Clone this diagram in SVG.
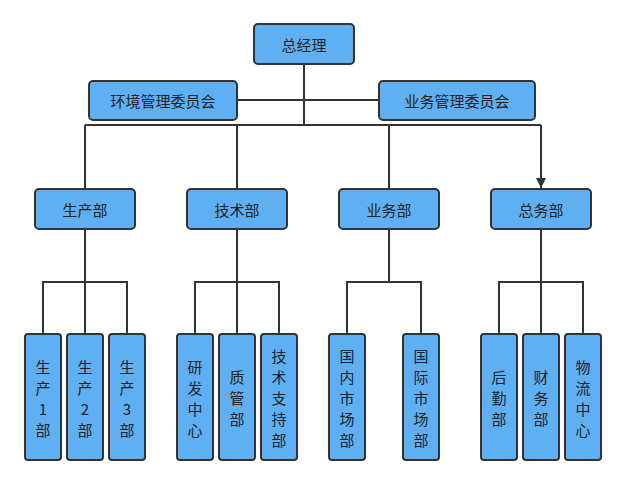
<svg xmlns="http://www.w3.org/2000/svg" width="626" height="485" viewBox="0 0 626 485">
<style>
.b{fill:#5fb0f2;stroke:#333;stroke-width:2}
.l{fill:none;stroke:#333;stroke-width:2}
text{font-family:"Noto Sans CJK SC","Liberation Sans",sans-serif;font-size:15px;fill:#222;text-anchor:middle;dominant-baseline:central}
</style>
<defs><marker id="a" markerWidth="10" markerHeight="10" refX="5" refY="8" orient="auto" markerUnits="userSpaceOnUse" viewBox="0 0 10 10"><path d="M0,0L10,0L5,10z" fill="#333" transform="rotate(-90 5 5)"/></marker>
<marker id="ar" viewBox="0 0 10 10" refX="10" refY="5" markerWidth="10" markerHeight="11" markerUnits="userSpaceOnUse" orient="auto"><path d="M0,0L10,5L0,10z" fill="#333"/></marker></defs>
<g id="connectors">
<path class="l" d="M89,100H535M304,64V125M85,125H541"/>
<path class="l" marker-end="url(#ar)" d="M85,125V188M237,125V188M389,125V188M541,125V188"/>
<path class="l" d="M85,229V334M43,334V282H127V334M237,229V334M195,334V282H279V334M389,229V282M347,334V282H421V334M541,229V334M499,334V282H583V334"/>
</g>
<g id="n0"><rect class="b" x="254" y="24" width="100" height="40" rx="4"/><text x="304" y="44">总经理</text></g>
<g id="c1"><rect class="b" x="89" y="81" width="148" height="39" rx="4"/><text x="163" y="100.5">环境管理委员会</text></g>
<g id="c2"><rect class="b" x="379" y="81" width="156" height="39" rx="4"/><text x="457" y="100.5">业务管理委员会</text></g>
<g id="d1"><rect class="b" x="35" y="189" width="100" height="40" rx="4"/><text x="85" y="209">生产部</text></g>
<g id="d2"><rect class="b" x="187" y="189" width="100" height="40" rx="4"/><text x="237" y="209">技术部</text></g>
<g id="d3"><rect class="b" x="339" y="189" width="100" height="40" rx="4"/><text x="389" y="209">业务部</text></g>
<g id="d4"><rect class="b" x="491" y="189" width="100" height="40" rx="4"/><text x="541" y="209">总务部</text></g>
<g id="p1"><rect class="b" x="25" y="334" width="36" height="126" rx="3"/><text x="43" y="366">生</text><text x="43" y="387">产</text><text x="43" y="408">1</text><text x="43" y="429">部</text></g>
<g id="p2"><rect class="b" x="67" y="334" width="36" height="126" rx="3"/><text x="85" y="366">生</text><text x="85" y="387">产</text><text x="85" y="408">2</text><text x="85" y="429">部</text></g>
<g id="p3"><rect class="b" x="109" y="334" width="36" height="126" rx="3"/><text x="127" y="366">生</text><text x="127" y="387">产</text><text x="127" y="408">3</text><text x="127" y="429">部</text></g>
<g id="t1"><rect class="b" x="177" y="334" width="36" height="126" rx="3"/><text x="195" y="366">研</text><text x="195" y="387">发</text><text x="195" y="408">中</text><text x="195" y="429">心</text></g>
<g id="t2"><rect class="b" x="219" y="334" width="36" height="126" rx="3"/><text x="237" y="376">质</text><text x="237" y="397">管</text><text x="237" y="418">部</text></g>
<g id="t3"><rect class="b" x="261" y="334" width="36" height="126" rx="3"/><text x="279" y="355">技</text><text x="279" y="376">术</text><text x="279" y="397">支</text><text x="279" y="418">持</text><text x="279" y="439">部</text></g>
<g id="s1"><rect class="b" x="329" y="334" width="36" height="126" rx="3"/><text x="347" y="355">国</text><text x="347" y="376">内</text><text x="347" y="397">市</text><text x="347" y="418">场</text><text x="347" y="439">部</text></g>
<g id="s2"><rect class="b" x="403" y="334" width="36" height="126" rx="3"/><text x="421" y="355">国</text><text x="421" y="376">际</text><text x="421" y="397">市</text><text x="421" y="418">场</text><text x="421" y="439">部</text></g>
<g id="g1"><rect class="b" x="481" y="334" width="36" height="126" rx="3"/><text x="499" y="376">后</text><text x="499" y="397">勤</text><text x="499" y="418">部</text></g>
<g id="g2"><rect class="b" x="523" y="334" width="36" height="126" rx="3"/><text x="541" y="376">财</text><text x="541" y="397">务</text><text x="541" y="418">部</text></g>
<g id="g3"><rect class="b" x="565" y="334" width="36" height="126" rx="3"/><text x="583" y="366">物</text><text x="583" y="387">流</text><text x="583" y="408">中</text><text x="583" y="429">心</text></g>
</svg>
